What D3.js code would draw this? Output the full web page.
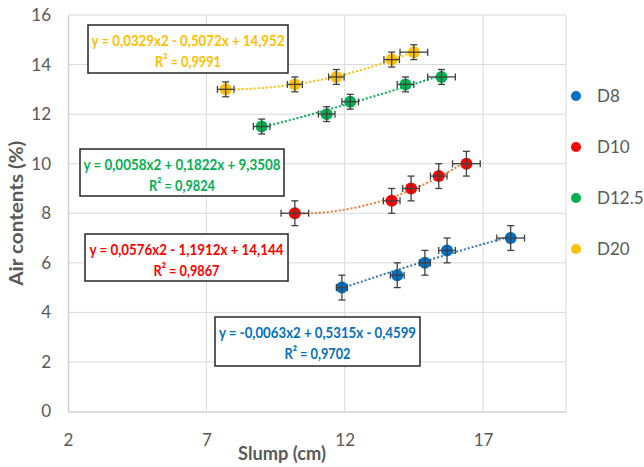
<!DOCTYPE html>
<html><head><meta charset="utf-8">
<script src="https://cdn.jsdelivr.net/npm/d3@7"></script>
<style>body{margin:0;background:#fff}</style></head>
<body><svg id="c" width="644" height="467"></svg>
<script>
// ---- data ----
const seriesNames = ["D8", "D10", "D12.5", "D20"];
const seriesColors = ["#0070c0", "#ff0000", "#00b050", "#ffc000"];
const trendColors = ["#2e75b6", "#ed7d31", "#00b050", "#ffc000"];
const d8X = [11.9, 13.9, 14.9, 15.7, 18.0];
const d8Y = [5.0, 5.5, 6.0, 6.5, 7.0];
const d8XErr = [0.2, 0.25, 0.2, 0.3, 0.5];
const d8YErr = [0.5, 0.5, 0.5, 0.5, 0.5];
const d10X = [10.2, 13.7, 14.4, 15.4, 16.4];
const d10Y = [8.0, 8.5, 9.0, 9.5, 10.0];
const d10XErr = [0.5, 0.3, 0.3, 0.3, 0.5];
const d10YErr = [0.5, 0.5, 0.5, 0.5, 0.5];
const d125X = [9.0, 11.35, 12.2, 14.2, 15.5];
const d125Y = [11.5, 12.0, 12.5, 13.2, 13.5];
const d125XErr = [0.3, 0.3, 0.3, 0.3, 0.5];
const d125YErr = [0.3, 0.3, 0.3, 0.3, 0.3];
const d20X = [7.7, 10.2, 11.7, 13.7, 14.5];
const d20Y = [13.0, 13.2, 13.5, 14.2, 14.5];
const d20XErr = [0.3, 0.27, 0.28, 0.28, 0.5];
const d20YErr = [0.3, 0.3, 0.3, 0.3, 0.3];
// polynomial trend coefficients (a, b, c)
const trendCoef = [[-0.0063, 0.5315, -0.4599], [0.0576, -1.1912, 14.144], [0.0058, 0.1822, 9.3508], [0.0329, -0.5072, 14.952]];
const eqLabels = ["y = -0,0063x2 + 0,5315x - 0,4599", "y = 0,0576x2 - 1,1912x + 14,144", "y = 0,0058x2 + 0,1822x + 9,3508", "y = 0,0329x2 - 0,5072x + 14,952"];
const r2Labels = ["R² = 0,9702", "R² = 0,9867", "R² = 0,9824", "R² = 0,9991"];
const xTicks = [2, 7, 12, 17];
const yTicks = [0, 2, 4, 6, 8, 10, 12, 14, 16];
const xTitle = "Slump (cm)";
const yTitle = "Air contents (%)";

// ---- layout ----
const svg = d3.select("#c");
const plot = {left: 68, right: 566, top: 15, bottom: 411.5};
const x = d3.scaleLinear().domain([2, 20]).range([plot.left, plot.right]);
const y = d3.scaleLinear().domain([0, 16]).range([plot.bottom, plot.top]);
const boxes = [
  {x: 215, y: 317, w: 205, h: 49},
  {x: 85, y: 234, w: 203, h: 47},
  {x: 80, y: 149, w: 204, h: 47},
  {x: 88, y: 25, w: 200, h: 48}
];
const eqWidths = [197, 194, 197, 193];

const series = [
  {xs: d8X, ys: d8Y, xe: d8XErr, ye: d8YErr},
  {xs: d10X, ys: d10Y, xe: d10XErr, ye: d10YErr},
  {xs: d125X, ys: d125Y, xe: d125XErr, ye: d125YErr},
  {xs: d20X, ys: d20Y, xe: d20XErr, ye: d20YErr}
].map((s, i) => ({name: seriesNames[i], color: seriesColors[i], tcolor: trendColors[i], coef: trendCoef[i],
  pts: s.xs.map((v, j) => ({x: v, y: s.ys[j], xe: s.xe[j], ye: s.ye[j]}))}));

const font = "Lato, 'Open Sans', sans-serif";
const grey = "#595959";

// gridlines
const g = svg.append("g");
g.selectAll(".hg").data(yTicks.filter(t => t > 0)).join("line")
  .attr("x1", plot.left).attr("x2", plot.right)
  .attr("y1", d => y(d)).attr("y2", d => y(d))
  .attr("stroke", "#d9d9d9").attr("stroke-width", 1);
g.selectAll(".vg").data(xTicks.filter(t => t > 2).concat([20])).join("line")
  .attr("x1", d => x(d)).attr("x2", d => x(d))
  .attr("y1", plot.top).attr("y2", plot.bottom)
  .attr("stroke", "#d9d9d9").attr("stroke-width", 1);

// axes
const xAxis = svg.append("g").attr("transform", `translate(0,${plot.bottom})`)
  .call(d3.axisBottom(x).tickValues(xTicks).tickSize(0).tickPadding(22).tickFormat(d3.format("d")));
const yAxis = svg.append("g").attr("transform", `translate(${plot.left},0)`)
  .call(d3.axisLeft(y).tickValues(yTicks).tickSize(0).tickPadding(17).tickFormat(d3.format("d")));
[xAxis, yAxis].forEach(a => {
  a.select(".domain").attr("stroke", "#d0d0d0").attr("stroke-width", 1.5);
  a.selectAll("text").attr("fill", grey).style("font-family", font).style("font-size", "17px");
});

// axis titles
svg.append("text").attr("x", 282).attr("y", 460).attr("text-anchor", "middle")
  .attr("textLength", 88).attr("lengthAdjust", "spacingAndGlyphs")
  .attr("fill", grey).style("font-family", font).style("font-size", "18px").style("font-weight", "bold").text(xTitle);
svg.append("text").attr("transform", `translate(23,${(plot.top + plot.bottom) / 2}) rotate(-90)`)
  .attr("text-anchor", "middle").attr("textLength", 145).attr("lengthAdjust", "spacingAndGlyphs")
  .attr("fill", grey).style("font-family", font)
  .style("font-size", "18px").style("font-weight", "bold").text(yTitle);

// trend lines
const line = d3.line().x(d => x(d[0])).y(d => y(d[1]));
series.forEach(s => {
  const xmin = d3.min(s.pts, p => p.x), xmax = d3.max(s.pts, p => p.x);
  const [a, b, c] = s.coef;
  const pts = d3.range(0, 61).map(k => { const xv = xmin + (xmax - xmin) * k / 60; return [xv, a * xv * xv + b * xv + c]; });
  svg.append("path").attr("d", line(pts)).attr("fill", "none")
    .attr("stroke", s.tcolor).attr("stroke-width", 2).attr("stroke-dasharray", "2,2");
});

// markers
series.forEach(s => {
  svg.append("g").selectAll("circle").data(s.pts).join("circle")
    .attr("cx", d => x(d.x)).attr("cy", d => y(d.y)).attr("r", 6).attr("fill", s.color);
});

// error bars
const eb = svg.append("g").attr("stroke", "#404040").attr("stroke-width", 1.3);
series.forEach(s => {
  s.pts.forEach(p => {
    const cx = x(p.x), cy = y(p.y);
    const x0 = x(p.x - p.xe), x1 = x(p.x + p.xe), y0 = y(p.y - p.ye), y1 = y(p.y + p.ye);
    eb.append("line").attr("x1", x0).attr("x2", x1).attr("y1", cy).attr("y2", cy);
    eb.append("line").attr("x1", x0).attr("x2", x0).attr("y1", cy - 3.5).attr("y2", cy + 3.5);
    eb.append("line").attr("x1", x1).attr("x2", x1).attr("y1", cy - 3.5).attr("y2", cy + 3.5);
    eb.append("line").attr("x1", cx).attr("x2", cx).attr("y1", y0).attr("y2", y1);
    eb.append("line").attr("x1", cx - 3.5).attr("x2", cx + 3.5).attr("y1", y0).attr("y2", y0);
    eb.append("line").attr("x1", cx - 3.5).attr("x2", cx + 3.5).attr("y1", y1).attr("y2", y1);
  });
});

// equation boxes
series.forEach((s, i) => {
  const b = boxes[i];
  const gb = svg.append("g");
  gb.append("rect").attr("x", b.x).attr("y", b.y).attr("width", b.w).attr("height", b.h)
    .attr("fill", "#fff").attr("stroke", "#262626").attr("stroke-width", 1.5);
  gb.append("text").attr("x", b.x + b.w / 2).attr("y", b.y + 20.5).attr("text-anchor", "middle")
    .attr("textLength", eqWidths[i]).attr("lengthAdjust", "spacingAndGlyphs")
    .attr("fill", s.color).style("font-family", font).style("font-size", "16px").style("font-weight", "bold")
    .text(eqLabels[i]);
  gb.append("text").attr("x", b.x + b.w / 2).attr("y", b.y + 42).attr("text-anchor", "middle")
    .attr("textLength", 66).attr("lengthAdjust", "spacingAndGlyphs")
    .attr("fill", s.color).style("font-family", font).style("font-size", "16px").style("font-weight", "bold")
    .text(r2Labels[i]);
});

// legend
const lg = svg.append("g");
series.forEach((s, i) => {
  const ly = 96 + i * 51;
  lg.append("circle").attr("cx", 576).attr("cy", ly).attr("r", 5).attr("fill", s.color);
  lg.append("text").attr("x", 597).attr("y", ly).attr("dy", "0.35em").attr("fill", grey)
    .style("font-family", font).style("font-size", "17px").text(s.name);
});
</script>
</body></html>
